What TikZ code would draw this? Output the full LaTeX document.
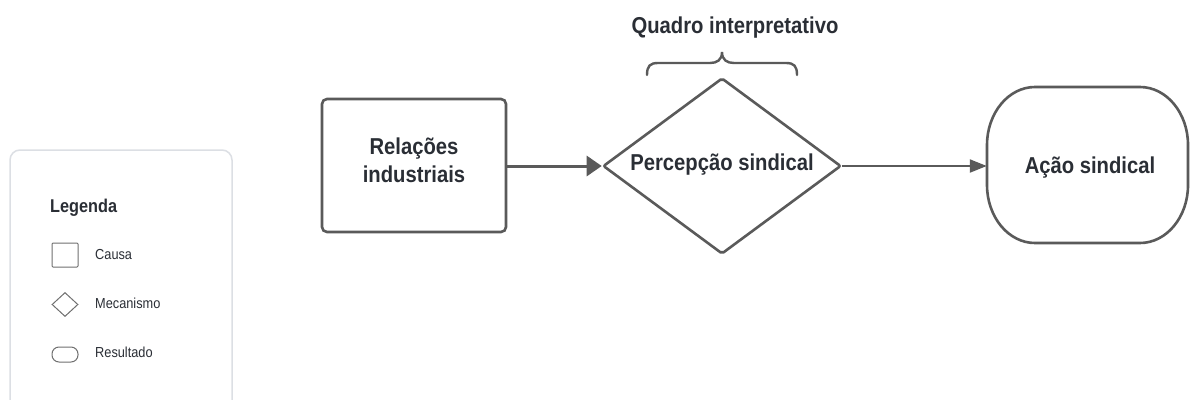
\documentclass[tikz,border=0pt]{standalone}
\usepackage{fontspec}
\setmainfont{Liberation Sans}[FakeStretch=0.88]
\usetikzlibrary{arrows.meta,shapes.geometric}
\definecolor{linec}{HTML}{5A5A5A}
\definecolor{textc}{HTML}{2A2E35}
\definecolor{legc}{HTML}{DCDFE4}
\definecolor{iconc}{HTML}{707070}
\tikzset{
  stroke/.style={draw=linec, line width=2.6pt},
  causebox/.style={stroke, rectangle, rounded corners=5pt, minimum width=184pt, minimum height=133pt, inner sep=0pt},
  mechbox/.style={stroke, diamond, minimum width=238pt, minimum height=176pt, inner sep=0pt, aspect=1.35, rounded corners=2pt},
  resbox/.style={rectangle, minimum width=201pt, minimum height=156pt, inner sep=0pt},
  maintext/.style={font=\bfseries\fontsize{23}{28}\selectfont, text=textc, inner sep=0pt},
  legtext/.style={font=\fontsize{14.5}{17}\selectfont, text=textc, inner sep=0pt, anchor=base west},
  legicon/.style={draw=iconc, line width=1pt, inner sep=0pt},
  arrowthick/.style={draw=linec, line width=3pt, -{Triangle[length=15pt,width=20pt]}},
  arrowthin/.style={draw=linec, line width=2pt, -{Triangle[length=17pt,width=13pt]}},
}
\begin{document}
\begin{tikzpicture}[x=1pt,y=-1pt]
\useasboundingbox (0,0) rectangle (1190,399);
\clip (0,0) rectangle (1190,399);
\fill[white] (0,0) rectangle (1190,399);
% legend
\draw[draw=legc, line width=1.5pt, rounded corners=10pt] (10,150) rectangle (232,430);
\node[font=\bfseries\fontsize{18.5}{22}\selectfont, text=textc, inner sep=0pt, anchor=base west] (legtitle) at (50,212) {Legenda};
\node[legicon, rectangle, rounded corners=1pt, minimum width=26pt, minimum height=24pt] (iconcausa) at (65,255) {};
\node[legtext] (tcausa) at (95,259) {Causa};
\node[legicon, diamond, minimum width=26pt, minimum height=24pt, aspect=1.08] (iconmec) at (65,304.5) {};
\node[legtext] (tmec) at (95,308) {Mecanismo};
\node[legicon, rectangle, rounded corners=7pt, minimum width=26pt, minimum height=15pt] (iconres) at (65,354.5) {};
\node[legtext] (tres) at (95,357) {Resultado};
% main diagram
\node[causebox] (rel) at (414,165.5) {};
\node[maintext, align=center] (reltext) at (414,160.5) {Relações\\industriais};
\node[mechbox] (perc) at (722,166) {};
\node[maintext, anchor=base] (perctext) at (722,170.5) {Percepção sindical};
\node[resbox] (acao) at (1087.5,165) {};
\draw[stroke] (1035,87) -- (1140,87)
  arc[start angle=-90, end angle=0, x radius=48, y radius=58] -- (1188,185)
  arc[start angle=0, end angle=90, x radius=48, y radius=58] -- (1035,243)
  arc[start angle=90, end angle=180, x radius=48, y radius=58] -- (987,145)
  arc[start angle=180, end angle=270, x radius=48, y radius=58] -- cycle;
\node[maintext, anchor=base] (acaotext) at (1090,173) {Ação sindical};
\node[maintext, anchor=base] (quadro) at (735,33) {Quadro interpretativo};
% brace
\draw[draw=linec, line width=2.4pt, line cap=round]
  (647,75) .. controls (647,66) and (650,63) .. (658,63) -- (710,63)
  .. controls (717,63) and (722,60) .. (722,52)
  .. controls (722,60) and (727,63) .. (734,63) -- (786,63)
  .. controls (794,63) and (797,66) .. (797,75);
% connectors
\draw[arrowthick] (rel.east |- 0,166) -- (perc.west);
\draw[arrowthin] (perc.east) -- (acao.west |- 0,166);
\end{tikzpicture}
\end{document}
